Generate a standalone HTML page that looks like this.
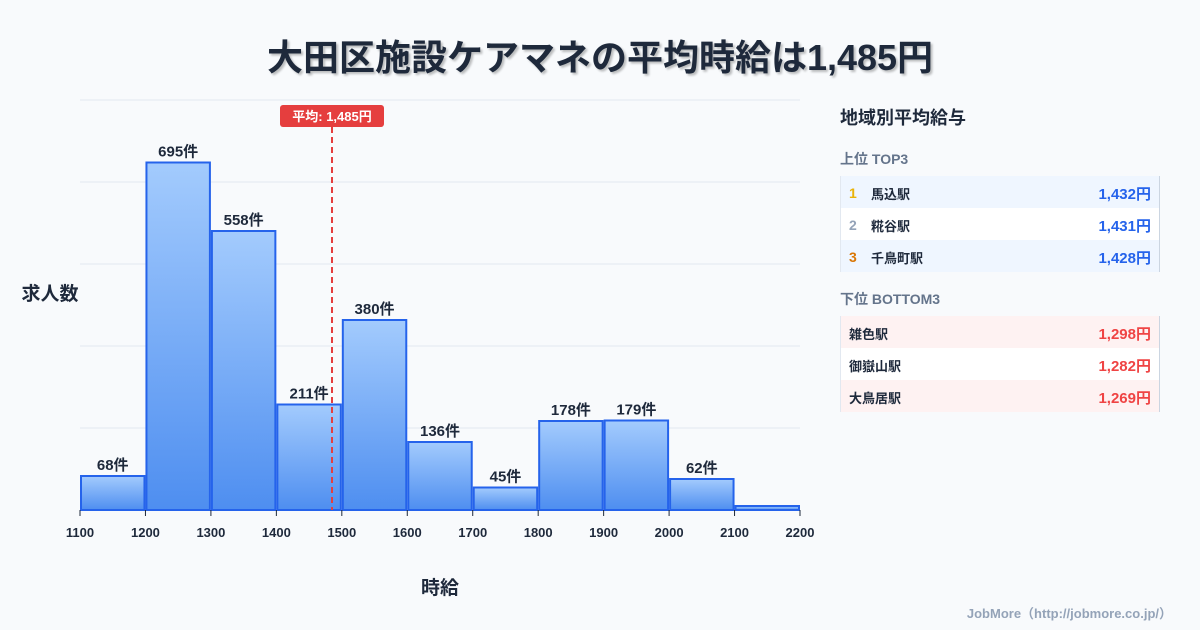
<!DOCTYPE html>
<html><head><meta charset="utf-8"><style>
body{margin:0;width:1200px;height:630px;background:#f8fafc;font-family:"Liberation Sans","Noto Sans CJK JP",sans-serif;overflow:hidden;position:relative;color:#1e293b}
.abs{position:absolute}
.row{position:absolute;left:840px;width:320px;height:32px;font-size:13px;font-weight:bold;border-right:1px solid #cbd5e1;border-left:1px solid #e2e8f0;box-sizing:border-box}
.row span{position:absolute;top:8px}
</style></head><body>
<div class="abs" style="left:0;width:1200px;top:29px;text-align:center;font-size:36px;font-weight:bold;text-shadow:2px 2px 2px rgba(0,0,0,0.25)">大田区施設ケアマネの平均時給は1,485円</div>
<svg class="abs" style="left:0;top:0" width="830" height="630">
<g id="grid"></g><g id="bars"></g><g id="xt"></g>
<text x="50" y="300" font-size="19" font-weight="bold" text-anchor="middle" fill="#1e293b">求人数</text>
<text x="440" y="594" font-size="19" font-weight="bold" text-anchor="middle" fill="#1e293b">時給</text>
<g id="mean"></g>
</svg>
<div class="abs" style="left:840px;top:104px;font-size:18px;font-weight:bold">地域別平均給与</div>
<div class="abs" style="left:840px;top:149px;font-size:14px;font-weight:bold;color:#64748b">上位 TOP3</div>
<div class="row" style="top:176px;background:#eff6ff"><span style="left:8px;color:#eab308;font-size:14px;top:9px">1</span><span style="left:30px">馬込駅</span><span style="right:8px;color:#2563eb;font-size:15px;top:7px">1,432円</span></div>
<div class="row" style="top:208px;background:#fff"><span style="left:8px;color:#94a3b8;font-size:14px;top:9px">2</span><span style="left:30px">糀谷駅</span><span style="right:8px;color:#2563eb;font-size:15px;top:7px">1,431円</span></div>
<div class="row" style="top:240px;background:#eff6ff"><span style="left:8px;color:#d97706;font-size:14px;top:9px">3</span><span style="left:30px">千鳥町駅</span><span style="right:8px;color:#2563eb;font-size:15px;top:7px">1,428円</span></div>
<div class="abs" style="left:840px;top:289px;font-size:14px;font-weight:bold;color:#64748b">下位 BOTTOM3</div>
<div class="row" style="top:316px;background:#fef2f2"><span style="left:8px">雑色駅</span><span style="right:8px;color:#ef4444;font-size:15px;top:7px">1,298円</span></div>
<div class="row" style="top:348px;background:#fff"><span style="left:8px">御嶽山駅</span><span style="right:8px;color:#ef4444;font-size:15px;top:7px">1,282円</span></div>
<div class="row" style="top:380px;background:#fef2f2"><span style="left:8px">大鳥居駅</span><span style="right:8px;color:#ef4444;font-size:15px;top:7px">1,269円</span></div>
<div class="abs" style="right:28px;top:603px;font-size:13px;font-weight:bold;color:#94a3b8">JobMore（http://jobmore.co.jp/）</div>
<script>
const binStarts=[1100,1200,1300,1400,1500,1600,1700,1800,1900,2000,2100];
const counts=[68,695,558,211,380,136,45,178,179,62,8];
const showLabel=[true,true,true,true,true,true,true,true,true,true,false];
const xTicks=[1100,1200,1300,1400,1500,1600,1700,1800,1900,2000,2100,2200];
const meanValue=1485;
const meanText="平均: 1,485円";
const NS="http://www.w3.org/2000/svg";
const X=v=>80+(v-1100)*720/1100;
const Y=v=>510-v*0.5;
function mk(t,a,p){const e=document.createElementNS(NS,t);for(const k in a)e.setAttribute(k,a[k]);p.appendChild(e);return e;}
const svg=document.querySelector('svg');
const defs=mk('defs',{},svg);
const lg=mk('linearGradient',{id:'bg',x1:0,y1:0,x2:0,y2:1},defs);
mk('stop',{offset:'0','stop-color':'#a3cbfd'},lg);mk('stop',{offset:'1','stop-color':'#4e8ef0'},lg);
const grid=document.getElementById('grid');
for(let i=1;i<=5;i++){const l=mk('line',{x1:80,x2:800,y1:Y(164*i),y2:Y(164*i),stroke:'#e2e8f0','stroke-width':1},grid);

}
const bars=document.getElementById('bars');
binStarts.forEach((b,i)=>{
const x0=X(b),x1=X(b+100),y=Y(counts[i]);
const r=mk('rect',{x:x0+1,y:y,width:x1-x0-2,height:510-y,fill:'url(#bg)',stroke:'#2563eb','stroke-width':2},bars);


if(showLabel[i]){const t=mk('text',{x:(x0+x1)/2,y:y-6,'text-anchor':'middle','font-size':15,'font-weight':'bold',fill:'#1e293b'},bars);t.textContent=counts[i]+'件';

}
});
const xt=document.getElementById('xt');
xTicks.forEach(v=>{mk('line',{x1:X(v),x2:X(v),y1:510,y2:516,stroke:'#1e293b'},xt);
const t=mk('text',{x:X(v),y:537,'text-anchor':'middle','font-size':13,'font-weight':'bold',fill:'#1e293b'},xt);t.textContent=v;

});
const m=document.getElementById('mean');const mx=X(meanValue);
const ml=mk('line',{x1:mx,x2:mx,y1:127,y2:510,stroke:'#e53e3e','stroke-width':2,'stroke-dasharray':'6,4'},m);


const mr=mk('rect',{x:mx-52,y:105,width:104,height:22,rx:3,fill:'#e53e3e'},m);


const mt=mk('text',{x:mx,y:121,'text-anchor':'middle','font-size':13,'font-weight':'bold',fill:'#fff'},m);mt.textContent=meanText;


</script>
</body></html>
